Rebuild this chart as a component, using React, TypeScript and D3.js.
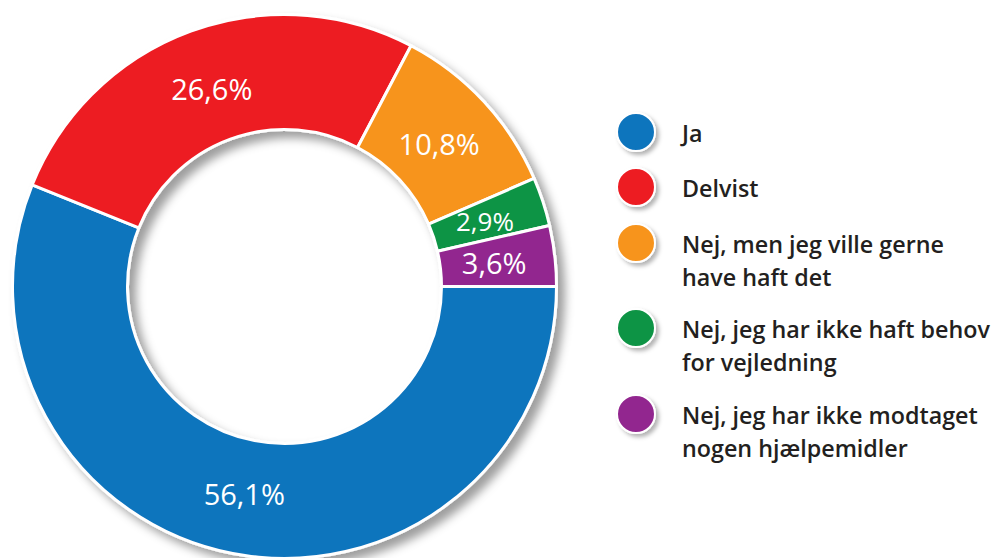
import React from "react";
import * as d3 from "d3";

const categories = [
  "Ja",
  "Delvist",
  "Nej, men jeg ville gerne have haft det",
  "Nej, jeg har ikke haft behov for vejledning",
  "Nej, jeg har ikke modtaget nogen hjælpemidler",
];
const legendLines = [
  ["Ja"],
  ["Delvist"],
  ["Nej, men jeg ville gerne", "have haft det"],
  ["Nej, jeg har ikke haft behov", "for vejledning"],
  ["Nej, jeg har ikke modtaget", "nogen hjælpemidler"],
];
const values = [56.1, 26.6, 10.8, 2.9, 3.6];
const labels = ["56,1%", "26,6%", "10,8%", "2,9%", "3,6%"];
const colors = ["#1174bd", "#ed1c24", "#f7941d", "#0e9444", "#92278f"];

const W = 994;
const H = 558;
const cx = 284.5;
const cy = 286.5;
const outerR = 272;
const innerR = 157;
const labelR = 211;

export default function App() {
  const pie = d3
    .pie<number>()
    .sort(null)
    .value((d) => d)
    .startAngle(Math.PI / 2)
    .endAngle(Math.PI / 2 + 2 * Math.PI);
  const arcs = pie(values);
  const arc = d3.arc<d3.PieArcDatum<number>>().innerRadius(innerR).outerRadius(outerR);
  const labelArc = d3.arc<d3.PieArcDatum<number>>().innerRadius(labelR).outerRadius(labelR);

  const legendY = d3.scaleOrdinal<string, number>().domain(categories).range([132, 187, 243, 328, 414]);

  return (
    <svg
      width={W}
      height={H}
      style={{ position: "absolute", left: 0, top: 0, background: "#fff" }}
      xmlns="http://www.w3.org/2000/svg"
    >
      <defs>
        <filter id="shadow" x="-20%" y="-20%" width="140%" height="140%">
          <feDropShadow dx="7" dy="7" stdDeviation="5" floodColor="#000" floodOpacity="0.38" />
        </filter>
        <filter id="shadowS" x="-50%" y="-50%" width="200%" height="200%">
          <feDropShadow dx="3" dy="3" stdDeviation="2" floodColor="#000" floodOpacity="0.3" />
        </filter>
      </defs>
      <g transform={`translate(${cx},${cy})`}>
        <g filter="url(#shadow)">
          {arcs.map((a, i) => (
            <path key={i} d={arc(a) || ""} fill={colors[i]} stroke="#fff" strokeWidth={3} strokeLinejoin="round" />
          ))}
        </g>
        {arcs.map((a, i) => {
          const [x, y] = labelArc.centroid(a);
          return (
            <text
              key={i}
              x={x}
              y={y}
              textAnchor="middle"
              dominantBaseline="central"
              fill="#fff"
              fontFamily="'Open Sans', Lato, sans-serif"
              fontWeight={400}
              fontSize={i === 3 ? 26 : 29}
            >
              {labels[i]}
            </text>
          );
        })}
      </g>
      {categories.map((c, i) => {
        const y = legendY(c);
        return (
          <g key={c}>
            <circle cx={636} cy={y} r={19} fill={colors[i]} stroke="#fff" strokeWidth={2} filter="url(#shadowS)" />
            <text
              x={682}
              y={y + 10}
              fill="#231f20"
              fontFamily="'Open Sans', Lato, sans-serif"
              fontWeight={600}
              fontSize={23.3}
            >
              {legendLines[i].map((l, j) => (
                <tspan key={j} x={682} dy={j === 0 ? 0 : 33}>
                  {l}
                </tspan>
              ))}
            </text>
          </g>
        );
      })}
    </svg>
  );
}
